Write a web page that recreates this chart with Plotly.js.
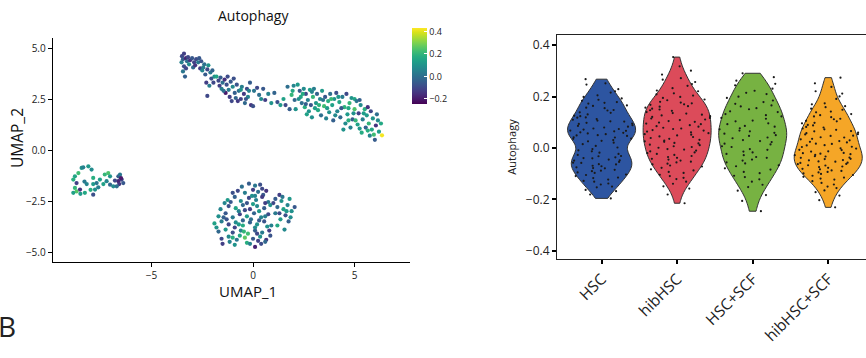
<!DOCTYPE html>
<html><head><meta charset="utf-8">
<script src="https://cdn.plot.ly/plotly-3.0.1.min.js"></script>
<style>html,body{margin:0;padding:0;background:#fff}#chart{width:866px;height:358px}</style>
</head><body><div id="chart"></div>
<script>
// ---------- DATA ----------
const groups = ["HSC", "hibHSC", "HSC+SCF", "hibHSC+SCF"];

const scoreHSC = [
0.268, 0.252, 0.247, 0.229,
0.221, 0.216, 0.205, 0.199, 0.193, 0.188, 0.184, 0.179, 0.176,
0.173, 0.166, 0.164, 0.157, 0.155, 0.148, 0.146, 0.139, 0.137, 0.131, 0.126,
0.124, 0.119, 0.118, 0.113, 0.110, 0.107, 0.104, 0.103, 0.098, 0.095, 0.094, 0.089, 0.086, 0.083, 0.080, 0.076,
0.074, 0.072, 0.068, 0.067, 0.065, 0.061, 0.059, 0.057, 0.054, 0.050, 0.049, 0.047, 0.042, 0.041, 0.037, 0.036, 0.031, 0.028, 0.026,
0.021, 0.015, 0.008, 0.002, -0.004, -0.009, -0.013, -0.018, -0.023,
-0.027, -0.031, -0.032, -0.036, -0.039, -0.040, -0.045, -0.048, -0.049, -0.054, -0.057, -0.058, -0.063, -0.064, -0.069, -0.071, -0.075,
-0.078, -0.079, -0.085, -0.088, -0.090, -0.095, -0.097, -0.103, -0.105, -0.109, -0.115, -0.117, -0.123,
-0.128, -0.131, -0.138, -0.142, -0.150, -0.153, -0.163, -0.168,
-0.181, -0.196];

const scoreHibHSC = [
0.354,
0.318, 0.301, 0.286,
0.272, 0.266, 0.257, 0.249, 0.242, 0.233,
0.224, 0.221, 0.213, 0.209, 0.204, 0.199, 0.195, 0.189, 0.186, 0.180, 0.177,
0.174, 0.170, 0.168, 0.163, 0.161, 0.157, 0.153, 0.150, 0.147, 0.145, 0.140, 0.136, 0.134, 0.130, 0.127,
0.124, 0.121, 0.117, 0.115, 0.111, 0.109, 0.105, 0.102, 0.099, 0.095, 0.093, 0.089, 0.085, 0.083, 0.079, 0.076,
0.074, 0.070, 0.068, 0.064, 0.061, 0.058, 0.054, 0.052, 0.049, 0.045, 0.043, 0.039, 0.036, 0.032, 0.029, 0.026,
0.024, 0.020, 0.018, 0.013, 0.011, 0.007, 0.004, 0.001, -0.004, -0.006, -0.010, -0.013, -0.017, -0.020, -0.023,
-0.027, -0.031, -0.035, -0.038, -0.042, -0.045, -0.049, -0.053, -0.056, -0.061, -0.064, -0.068, -0.072,
-0.077, -0.083, -0.087, -0.093, -0.097, -0.104, -0.109, -0.116, -0.121,
-0.131, -0.139, -0.149, -0.158,
-0.181, -0.215];

const scoreHSC_SCF = [
0.291, 0.276,
0.262, 0.250, 0.244, 0.231,
0.223, 0.215, 0.210, 0.200, 0.195, 0.185, 0.179,
0.172, 0.166, 0.162, 0.155, 0.151, 0.143, 0.140, 0.132, 0.128,
0.123, 0.117, 0.114, 0.107, 0.104, 0.096, 0.093, 0.086, 0.083, 0.077,
0.073, 0.068, 0.065, 0.059, 0.056, 0.050, 0.047, 0.041, 0.038, 0.031, 0.027,
0.023, 0.017, 0.014, 0.007, 0.004, -0.004, -0.007, -0.014, -0.017, -0.023,
-0.028, -0.035, -0.038, -0.045, -0.049, -0.056, -0.060, -0.067, -0.071,
-0.079, -0.084, -0.093, -0.098, -0.108, -0.113, -0.122,
-0.131, -0.143, -0.152, -0.166,
-0.183, -0.206,
-0.246];

const scoreHibHSC_SCF = [
0.274, 0.252,
0.238, 0.221, 0.212, 0.201, 0.191,
0.174, 0.170, 0.163, 0.159, 0.153, 0.149, 0.142, 0.139, 0.132, 0.128,
0.123, 0.120, 0.114, 0.112, 0.106, 0.104, 0.098, 0.096, 0.090, 0.088, 0.082, 0.080, 0.076,
0.073, 0.071, 0.066, 0.065, 0.060, 0.058, 0.054, 0.053, 0.048, 0.047, 0.042, 0.041, 0.036, 0.034, 0.030, 0.027,
0.024, 0.022, 0.017, 0.016, 0.011, 0.010, 0.005, 0.004, -0.001, -0.002, -0.007, -0.008, -0.013, -0.014, -0.019, -0.020, -0.022, -0.024,
-0.027, -0.028, -0.032, -0.033, -0.037, -0.038, -0.042, -0.043, -0.047, -0.048, -0.052, -0.053, -0.057, -0.058, -0.062, -0.063, -0.067, -0.068, -0.072, -0.074,
-0.077, -0.081, -0.083, -0.087, -0.089, -0.093, -0.095, -0.099, -0.101, -0.105, -0.108, -0.112, -0.115, -0.119, -0.123,
-0.129, -0.136, -0.142, -0.150, -0.156, -0.165, -0.172,
-0.185, -0.203, -0.231];

// UMAP points: [UMAP_1, UMAP_2, Autophagy score]
const umapUpper = [
[-3.50,4.60,-0.10],[-3.45,4.45,-0.05],[-3.40,4.72,-0.12],[-3.30,4.50,-0.18],[-3.25,4.35,0.00],[-3.52,4.30,0.05],[-3.40,4.10,-0.08],[-3.45,3.85,0.02],[-3.35,3.60,-0.04],[-3.20,4.55,-0.10],[-3.10,4.40,-0.15],[-3.00,4.50,-0.06],[-3.15,4.20,0.08],[-2.90,4.30,-0.11],[-2.95,4.05,-0.02],
[-2.80,4.45,-0.09],[-2.70,4.30,0.03],[-2.60,4.00,-0.13],[-2.55,4.35,-0.07],[-2.40,4.20,0.00],[-2.50,3.90,0.06],[-2.35,3.70,-0.05],[-2.20,4.15,0.10],[-2.25,3.95,-0.10],[-2.10,3.80,0.02],[-2.05,3.50,-0.08],[-2.30,3.30,-0.12],[-2.15,3.15,0.04],[-2.00,3.90,-0.03],[-2.25,2.65,-0.10],[-1.90,3.60,0.09],
[-1.80,3.60,0.15],[-1.70,3.40,-0.10],[-1.60,3.55,-0.05],[-1.50,3.30,0.00],[-1.55,3.00,0.05],[-1.40,3.45,-0.15],[-1.30,3.20,-0.08],[-1.35,2.80,-0.20],[-1.20,2.95,0.03],[-1.10,3.35,-0.06],[-1.15,2.60,-0.12],[-1.00,3.10,0.07],[-1.05,2.40,-0.10],[-0.90,2.80,-0.04],[-1.25,3.60,-0.09],
[-0.80,3.20,-0.07],[-0.70,2.90,0.00],[-0.60,2.50,-0.11],[-0.55,3.10,0.04],[-0.45,2.75,-0.13],[-0.40,2.30,-0.02],[-0.30,3.00,-0.09],[-0.25,2.60,0.06],[-0.15,3.30,-0.05],[-0.10,2.20,-0.14],[0.00,2.15,-0.08],[0.05,2.90,0.02],[-0.60,2.95,0.10],[-0.85,2.55,-0.03],
[0.20,3.05,-0.10],[0.30,2.70,0.00],[0.40,2.50,0.08],[0.50,3.00,-0.06],[0.60,2.45,-0.12],[0.75,2.75,0.05],[0.90,2.30,0.10],[1.05,2.80,-0.03],[1.20,2.35,-0.08],[1.35,2.20,0.12],
[1.50,2.50,0.14],[1.60,2.20,-0.10],[1.70,3.10,0.00],[1.80,2.00,-0.05],[1.90,2.70,0.20],[2.00,3.15,0.06],[2.05,2.45,-0.02],[2.10,2.00,0.10],[1.95,2.90,0.16],
[2.20,3.20,0.12],[2.30,2.90,-0.05],[2.35,2.60,0.15],[2.40,2.30,0.00],[2.50,3.00,0.08],[2.55,2.10,0.18],[2.60,2.75,-0.10],[2.70,2.45,0.05],[2.75,1.90,0.10],[2.80,2.95,0.13],[2.85,2.20,-0.07],[2.90,1.60,0.09],[2.95,2.60,0.20],[3.00,3.00,0.04],[2.65,1.75,0.14],
[3.10,2.30,0.11],[3.15,2.75,-0.03],[3.20,1.95,0.16],[3.30,2.50,0.07],[3.35,1.70,0.00],[3.40,2.90,0.12],[3.50,2.15,0.22],[3.55,2.60,-0.06],[3.60,1.55,0.05],[3.70,2.40,0.18],[3.75,1.85,0.09],[3.80,2.75,0.00],[3.90,2.20,0.14],[3.95,1.45,-0.04],[4.00,2.50,0.10],
[4.10,2.80,-0.08],[4.15,1.90,0.06],[4.25,2.35,0.15],[4.30,1.60,-0.02],[4.40,2.60,0.03],[4.50,2.10,0.19],[4.55,1.30,0.08],[4.60,2.75,-0.10],[4.65,1.75,0.12],[4.75,2.30,0.20],[4.80,1.10,0.05],[4.85,2.55,0.10],[4.90,1.50,-0.05],[5.00,2.00,0.24],[5.00,2.50,0.15],[4.45,1.00,0.10],
[5.10,2.40,0.02],[5.15,1.25,0.14],[5.20,1.80,-0.12],[5.30,2.20,0.08],[5.35,0.85,0.17],[5.40,1.50,0.04],[5.50,2.00,0.18],[5.55,1.10,-0.03],[5.60,1.70,0.12],[5.70,1.30,0.20],[5.75,0.70,0.06],[5.80,1.90,-0.10],[5.85,1.00,0.15],[5.90,1.55,0.10],[6.00,0.50,-0.05],[6.05,1.20,-0.15],[6.10,1.75,0.00],[6.20,0.90,0.13],[6.30,1.30,0.16],[6.35,0.72,0.42],[5.95,0.75,0.22],
[2.25,2.50,0.09],[2.45,2.75,0.17],[2.60,2.25,-0.04],[2.90,2.85,0.06],[3.05,2.05,0.13],[3.25,2.20,0.19],[3.45,2.45,0.02],[3.65,2.05,0.12],[3.85,2.50,0.21],[4.05,1.70,0.07],[4.20,2.60,0.11],[4.35,2.05,-0.06],[4.70,2.05,0.16],[4.95,1.80,0.09],[5.05,1.45,0.20],[5.25,2.45,-0.04],[5.45,1.80,0.13],[5.65,2.10,-0.15],[5.65,0.95,0.18],[6.15,1.45,0.07],[5.25,1.05,0.11],[4.70,1.45,0.18],
[-3.30,4.00,-0.10],[-2.85,4.15,-0.14],[-2.65,4.50,-0.06],[-2.45,4.05,0.04],[-1.95,3.30,-0.10],[-1.65,3.15,-0.12],[-1.45,2.90,0.00],[-0.95,3.50,-0.08],[-0.75,2.40,-0.13],[-0.35,2.50,-0.06],[-0.20,2.90,0.05]
];

const umapLeft = [
[-8.77,-1.29,0.15],[-8.60,-1.13,0.22],[-8.44,-0.88,0.10],[-8.36,-0.85,0.05],[-8.11,-0.80,0.12],[-7.95,-0.96,0.08],[-8.85,-1.45,0.18],[-8.69,-1.62,-0.12],
[-8.77,-1.86,0.20],[-8.69,-2.03,0.25],[-8.85,-2.10,0.14],[-8.52,-1.94,-0.15],[-8.28,-2.10,0.16],[-8.19,-1.67,0.06],[-7.87,-1.67,0.12],[-7.78,-1.94,0.09],
[-7.87,-2.19,-0.08],[-7.70,-1.62,0.02],[-7.54,-1.45,0.13],[-7.62,-1.83,0.04],[-7.13,-1.13,0.24],[-7.04,-1.29,0.10],[-7.21,-1.53,0.06],[-7.04,-1.70,-0.02],
[-6.88,-1.78,0.08],[-6.63,-1.29,-0.05],[-6.55,-1.21,0.02],[-6.63,-1.53,-0.18],[-6.47,-1.45,-0.10],[-6.59,-1.67,-0.14],[-6.39,-1.62,-0.06],[-6.71,-1.78,0.00],
[-7.37,-1.67,0.14],[-7.87,-1.37,0.18],[-8.30,-1.55,0.03],[-6.50,-1.38,-0.20],
[-8.50,-2.15,0.12],[-7.30,-1.20,0.20],[-6.80,-1.50,-0.10],[-8.00,-1.95,0.17]
];

const umapLower = [
[-0.20,-1.65,-0.05],[0.10,-1.75,0.02],[0.35,-1.70,-0.08],
[-0.75,-2.00,-0.10],[-0.40,-2.10,0.04],[0.00,-1.95,-0.12],[0.25,-2.05,0.00],[0.50,-2.20,-0.06],
[-1.25,-2.45,0.12],[-0.90,-2.30,-0.04],[-0.60,-2.50,0.08],[-0.20,-2.35,-0.10],[0.15,-2.45,0.05],[0.45,-2.30,-0.13],[0.75,-2.55,0.02],
[-1.60,-2.90,0.06],[-1.20,-2.75,-0.08],[-0.85,-2.85,0.15],[-0.50,-2.70,-0.02],[-0.15,-2.90,-0.12],[0.20,-2.75,0.07],[0.55,-2.85,-0.05],[0.85,-2.70,0.10],
[-1.70,-3.25,0.09],[-1.35,-3.10,-0.06],[-1.00,-3.30,0.03],[-0.65,-3.15,-0.11],[-0.30,-3.25,0.12],[0.05,-3.10,-0.03],[0.40,-3.30,0.06],[0.75,-3.15,-0.09],[-0.10,-3.40,0.01],
[-1.90,-3.60,0.14],[-1.55,-3.50,0.04],[-1.20,-3.65,-0.10],[-0.85,-3.55,0.08],[-0.50,-3.70,0.17],[-0.15,-3.55,-0.04],[0.20,-3.65,0.10],[0.55,-3.50,-0.07],[0.90,-3.70,0.05],
[-1.70,-4.00,-0.02],[-1.35,-3.90,0.11],[-1.00,-4.05,-0.08],[-0.60,-3.95,0.06],[-0.25,-4.10,0.22],[0.10,-3.95,-0.05],[0.45,-4.05,0.03],[0.80,-3.95,-0.12],
[-1.55,-4.35,-0.10],[-1.20,-4.25,0.07],[-0.80,-4.40,0.02],[-0.40,-4.30,0.26],[0.00,-4.35,-0.06],[0.35,-4.25,0.09],[0.65,-4.40,-0.14],
[-1.50,-4.60,-0.12],[-0.90,-4.65,0.10],[-0.30,-4.55,0.18],[0.10,-4.75,-0.18],[0.40,-4.60,-0.09],[0.60,-4.50,-0.02],
[-0.70,-3.00,0.05],[-0.30,-2.60,-0.07],[0.30,-3.00,0.11],[-0.50,-3.45,-0.03],[0.10,-3.80,0.08],[-0.90,-3.80,-0.11],[0.60,-3.25,0.04],[-1.10,-2.55,-0.06],[0.00,-2.65,0.13],[-0.45,-4.00,0.20],
[-1.45,-3.30,-0.04],[-1.15,-4.50,0.05],[0.25,-4.45,-0.11],[-0.05,-2.25,0.09],[0.65,-2.00,-0.15],[-0.65,-4.20,0.15],
[1.10,-2.40,-0.05],[1.40,-2.50,0.10],[1.30,-2.20,-0.12],[1.70,-2.70,0.06],[1.50,-2.90,0.14],[1.20,-2.80,-0.02],[1.90,-3.00,0.09],[1.60,-3.20,-0.08],
[1.10,-3.10,0.03],[1.35,-3.40,0.12],[1.75,-3.50,-0.04],[1.20,-3.70,0.16],[1.55,-3.90,0.07],[1.00,-2.60,-0.10],[1.80,-2.40,0.11],[2.05,-2.80,-0.06],
[-1.00,-2.10,-0.08],[-0.55,-1.80,0.00],[0.45,-1.90,-0.10],[-1.40,-2.60,0.06],[-0.40,-2.95,-0.09],[0.10,-2.25,0.06],[0.60,-2.60,-0.12],[-1.80,-3.80,0.10],[-1.30,-3.40,-0.07],[-0.70,-3.65,0.12],
[0.30,-3.45,-0.05],[0.70,-3.75,0.09],[-1.00,-4.30,0.18],[0.20,-4.10,-0.10],[-0.15,-4.60,0.05],[0.85,-4.20,-0.07],[1.45,-2.30,0.02],[1.65,-3.00,0.11],[1.30,-3.10,-0.09],[1.85,-3.30,0.08]
];

const umapXTicks = [-5, 0, 5];
const umapYTicks = [-5, -2.5, 0, 2.5, 5];
const colorTicks = [-0.2, 0.0, 0.2, 0.4];
const violinYTicks = [-0.4, -0.2, 0.0, 0.2, 0.4];

// ---------- STYLE ----------
const groupFill = ["#2D55A1", "#DC4B5A", "#77B242", "#F5A627"];
const FONT = "Open Sans, Noto Sans, DejaVu Sans, sans-serif";

const umapAll = umapUpper.concat(umapLeft, umapLower);
const scoresByGroup = [scoreHSC, scoreHibHSC, scoreHSC_SCF, scoreHibHSC_SCF];

const traces = [{
  type: "scatter", mode: "markers",
  x: umapAll.map(p => p[0]), y: umapAll.map(p => p[1]),
  xaxis: "x", yaxis: "y",
  marker: {
    size: 4.2, color: umapAll.map(p => p[2]), colorscale: "Viridis",
    cmin: -0.245, cmax: 0.43,
    colorbar: {
      x: 412/866, xanchor: "left", xpad: 0,
      y: 1 - 66/358, yanchor: "middle", ypad: 0,
      len: 76, lenmode: "pixels", thickness: 15,
      outlinewidth: 0, tickvals: colorTicks, tickformat: ".1f",
      ticks: "inside", ticklen: 3, tickcolor: "#ffffff", tickwidth: 1,
      tickfont: {family: FONT, size: 9, color: "#222"}
    }
  },
  showlegend: false, hoverinfo: "x+y"
}];

groups.forEach((g, i) => {
  traces.push({
    type: "violin", name: g,
    x: scoresByGroup[i].map(() => g), y: scoresByGroup[i],
    xaxis: "x2", yaxis: "y2",
    fillcolor: groupFill[i], opacity: 1,
    line: {color: "#333333", width: 1},
    spanmode: "hard", width: 0.9, bandwidth: 0.032, scalemode: "width",
    points: "all", jitter: 1, pointpos: 0,
    marker: {size: 2.2, color: "#1a1a1a"},
    box: {visible: false}, meanline: {visible: false},
    showlegend: false
  });
});

const axisCommon = {showgrid: false, zeroline: false, showline: true, linecolor: "#000", ticks: "outside", tickcolor: "#000"};

const layout = {
  width: 866, height: 358,
  margin: {l: 0, r: 0, t: 0, b: 0},
  paper_bgcolor: "#fff", plot_bgcolor: "#fff",
  font: {family: FONT, color: "#222"},
  showlegend: false,
  xaxis: Object.assign({}, axisCommon, {
    anchor: "y",
    domain: [53/866, 410/866], range: [-9.85, 7.73],
    linewidth: 1.3, ticklen: 4, tickwidth: 1, tickvals: umapXTicks,
    tickfont: {size: 10, color: "#222"}
  }),
  yaxis: Object.assign({}, axisCommon, {
    anchor: "x",
    domain: [1 - 262/358, 1 - 38/358], range: [-5.49, 5.49],
    linewidth: 1.3, ticklen: 4, tickwidth: 1, tickvals: umapYTicks, tickformat: ".1f",
    tickfont: {size: 10, color: "#222"}
  }),
  xaxis2: Object.assign({}, axisCommon, {
    anchor: "y2",
    domain: [557/866, 1], range: [-0.59, 3.5], type: "category",
    categoryorder: "array", categoryarray: groups,
    mirror: true, linewidth: 1, linecolor: "#222",
    ticklen: 4, tickwidth: 2, tickangle: -45,
    tickfont: {size: 15.5, color: "#222"}
  }),
  yaxis2: Object.assign({}, axisCommon, {
    anchor: "x2",
    domain: [1 - 259/358, 1 - 35/358], range: [-0.432, 0.44],
    mirror: true, linewidth: 1, linecolor: "#222",
    ticklen: 4, tickwidth: 2, tickvals: violinYTicks, tickformat: ".1f",
    tickfont: {size: 12, color: "#222"},
    title: {text: "Autophagy", font: {size: 11, color: "#222"}, standoff: 6}
  }),
  annotations: [
    {text: "Autophagy", x: 253/866, y: 1 - 15/358, xref: "paper", yref: "paper",
     xanchor: "center", yanchor: "middle", showarrow: false, font: {size: 14, color: "#111"}},
    {text: "UMAP_1", x: 248/866, y: 1 - 291/358, xref: "paper", yref: "paper",
     xanchor: "center", yanchor: "middle", showarrow: false, font: {size: 15, color: "#111"}},
    {text: "UMAP_2", x: 17/866, y: 1 - 138/358, xref: "paper", yref: "paper", textangle: -90,
     xanchor: "center", yanchor: "middle", showarrow: false, font: {size: 15.5, color: "#111"}},
    {text: "B", x: 7/866, y: 1 - 326/358, xref: "paper", yref: "paper",
     xanchor: "center", yanchor: "middle", showarrow: false, font: {size: 28, color: "#222"}}
  ]
};

Plotly.newPlot("chart", traces, layout, {displayModeBar: false, staticPlot: true});
</script>
</body></html>
